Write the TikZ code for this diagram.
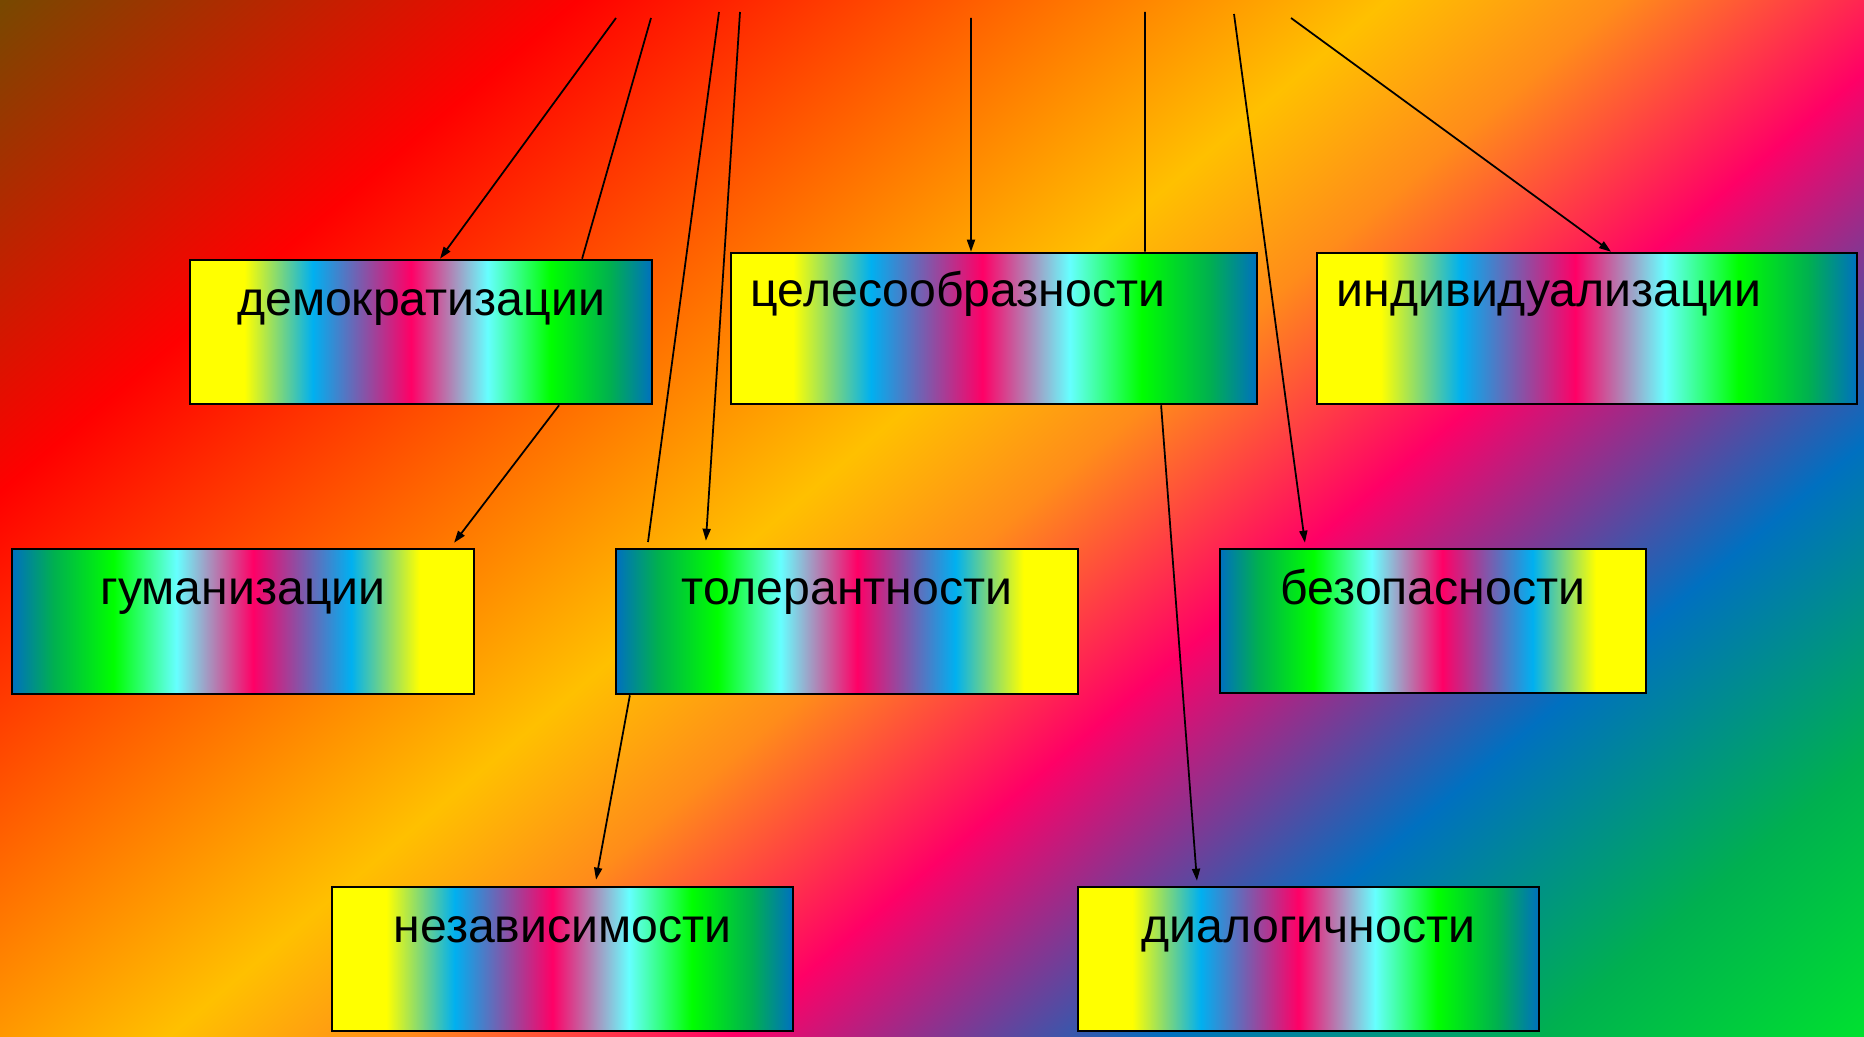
\documentclass[tikz,border=0pt]{standalone}
\usepackage{fontspec}
\setmainfont{Liberation Sans}
\usetikzlibrary{arrows.meta}

\definecolor{bgbrown}{HTML}{784800}
\definecolor{bgred}{HTML}{FF0000}
\definecolor{bgyellow}{HTML}{FFC000}
\definecolor{bgorange}{HTML}{FF8C1A}
\definecolor{bgpink}{HTML}{FF0066}
\definecolor{bgblue}{HTML}{0070C0}
\definecolor{bggreen}{HTML}{00B050}
\definecolor{bglime}{HTML}{00E030}
\definecolor{rbyellow}{HTML}{FFFF00}
\definecolor{rbsky}{HTML}{00B0F0}
\definecolor{rbpink}{HTML}{FF0066}
\definecolor{rbcyan}{HTML}{66FFFF}
\definecolor{rbgreen}{HTML}{00FF00}
\definecolor{rbdkgreen}{HTML}{00B050}
\definecolor{rbblue}{HTML}{0070C0}

\pgfdeclarehorizontalshading{bgshade}{100bp}{color(0bp)=(bgbrown); color(23.2bp)=(bgbrown);
  color(33.2bp)=(bgred); color(47.3bp)=(bgyellow); color(51.4bp)=(bgorange); color(57.1bp)=(bgpink);
  color(64.7bp)=(bgblue); color(71.2bp)=(bggreen); color(76.8bp)=(bglime); color(100bp)=(bglime)}
\pgfdeclarehorizontalshading{rainbow}{100bp}{color(0bp)=(rbyellow); color(30.9bp)=(rbyellow);
  color(38.3bp)=(rbsky); color(48.9bp)=(rbpink); color(57.2bp)=(rbcyan); color(64bp)=(rbgreen);
  color(70.5bp)=(rbdkgreen); color(75bp)=(rbblue); color(100bp)=(rbblue)}
\pgfdeclarehorizontalshading{rainbowrev}{100bp}{color(0bp)=(rbblue); color(25bp)=(rbblue);
  color(29.5bp)=(rbdkgreen); color(36bp)=(rbgreen); color(42.8bp)=(rbcyan); color(51.1bp)=(rbpink);
  color(61.7bp)=(rbsky); color(69.1bp)=(rbyellow); color(100bp)=(rbyellow)}

\begin{document}
\begin{tikzpicture}[x=0.01cm, y=-0.01cm,
    box/.style={draw, line width=0.7pt, inner sep=0pt, shade, shading=rainbow,
      text height=0.56cm, font=\fontsize{13.7pt}{16pt}\selectfont},
    flip/.style={shading=rainbowrev},
    link/.style={line width=0.5pt},
    >={Triangle[length=0.12cm, width=0.08cm]}]
    \useasboundingbox (0,0) rectangle (1864,1037);

    % Background
    \begin{scope}
      \clip (0,0) rectangle (1864,1037);
      \shade[shading=bgshade, shading angle=-49.6] (0,-413.5) rectangle (1864,1450.5);
    \end{scope}

    % First row
    \node[box, minimum width=4.62cm, minimum height=1.44cm, text depth=0.88cm] (demo) at (421,332) {демократизации};
    \node[box, minimum width=5.26cm, minimum height=1.51cm, text height=0.54cm, text depth=0.97cm,
      text width=4.86cm, align=left] (purpose) at (994,328.5) {целесообразности};
    \node[box, minimum width=5.40cm, minimum height=1.51cm, text height=0.54cm, text depth=0.97cm,
      text width=5.0cm, align=left] (indiv) at (1587,328.5) {индивидуализации};

    % Second row
    \node[box, flip, minimum width=4.62cm, minimum height=1.45cm, text depth=0.89cm] (human) at (243,621.5) {гуманизации};
    \node[box, flip, minimum width=4.62cm, minimum height=1.45cm, text depth=0.89cm] (toler) at (847,621.5) {толерантности};
    \node[box, flip, minimum width=4.26cm, minimum height=1.44cm, text depth=0.88cm] (safety) at (1433,621) {безопасности};

    % Third row
    \node[box, minimum width=4.61cm, minimum height=1.44cm, text depth=0.88cm] (indep) at (562.5,959) {независимости};
    \node[box, minimum width=4.61cm, minimum height=1.44cm, text depth=0.88cm] (dialog) at (1308.5,959) {диалогичности};

    % Lines from the top
    \coordinate (top1) at (616,18);
    \coordinate (top2) at (651,18);
    \coordinate (top3) at (719,12);
    \coordinate (top4) at (740,12);
    \coordinate (top5) at (971,18);
    \coordinate (top6) at (1145,12);
    \coordinate (top7) at (1234,14);
    \coordinate (top8) at (1291,18);
    \coordinate (end3) at (648,542);
    \draw[link, ->] (top1) -- ([xshift=0.19cm]demo.north);
    \draw[link] (top2) -- ([xshift=1.61cm]demo.north);
    \draw[link] (top3) -- (end3);
    \draw[link, ->] (top4) -- ([xshift=-1.41cm, yshift=0.07cm]toler.north);
    \draw[link, ->] (top5) -- ([xshift=-0.23cm]purpose.north);
    \draw[link] (top6) -- ([xshift=1.51cm]purpose.north);
    \draw[link, ->] (top7) -- ([xshift=-1.28cm, yshift=0.05cm]safety.north);
    \draw[link, ->] (top8) -- ([xshift=0.24cm]indiv.north);

    % Between boxes
    \draw[link, ->] ([xshift=1.38cm]demo.south) -- ([xshift=2.11cm, yshift=0.05cm]human.north);
    \draw[link, ->] ([xshift=-2.17cm]toler.south) -- ([xshift=0.335cm, yshift=0.06cm]indep.north);
    \draw[link, ->] ([xshift=1.67cm]purpose.south) -- ([xshift=-1.115cm, yshift=0.05cm]dialog.north);
\end{tikzpicture}
\end{document}
